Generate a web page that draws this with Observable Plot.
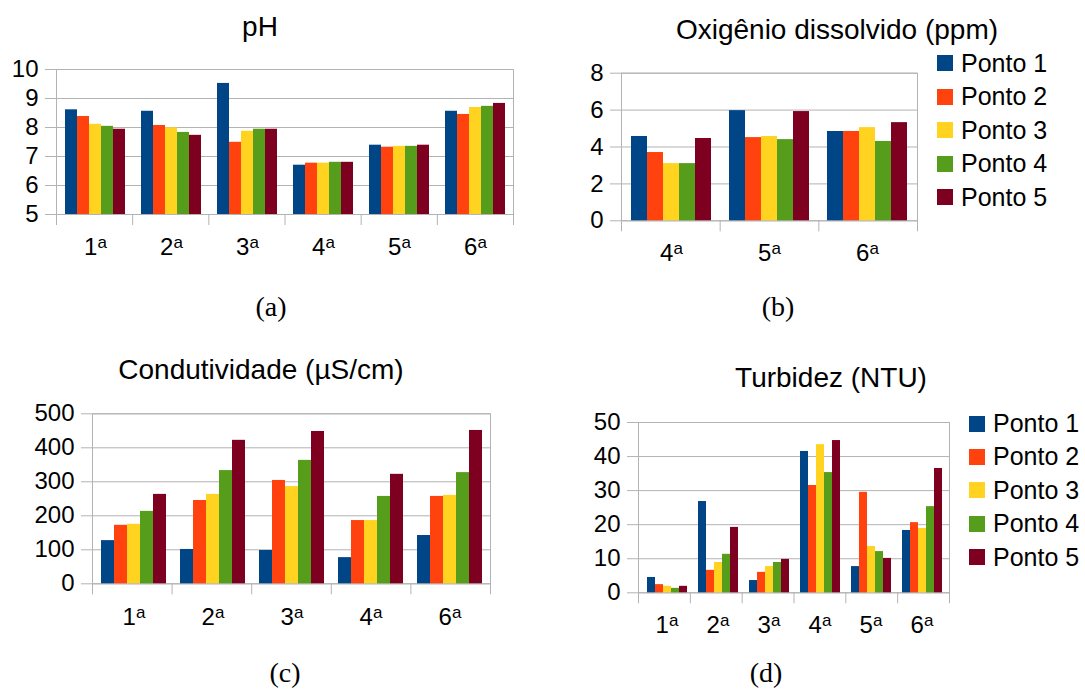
<!DOCTYPE html>
<html>
<head>
<meta charset="utf-8">
<script src="https://cdn.jsdelivr.net/npm/d3@7"></script>
<script src="https://cdn.jsdelivr.net/npm/@observablehq/plot@0.6"></script>
<style>
  html, body { margin: 0; padding: 0; background: #fff; }
  #fig { position: relative; width: 1085px; height: 689px; background: #fff; overflow: hidden; font-family: "Liberation Sans", Arial, sans-serif; }
  .abs { position: absolute; }
  .title { position: absolute; line-height: 1; white-space: nowrap; text-align: center; color: #000; }
  .cap { position: absolute; line-height: 0.8; white-space: nowrap; text-align: center; font-family: "Liberation Serif", "Times New Roman", serif; color: #000; }
  .leg { position: absolute; height: 25px; line-height: 25px; font-size: 25px; white-space: nowrap; color: #000; }
  .sw { position: absolute; width: 16px; height: 16px; top: 4.5px; left: 0; }
</style>
</head>
<body>
<div id="fig"></div>
<script>
// ---- data ----
const series = ["Ponto 1", "Ponto 2", "Ponto 3", "Ponto 4", "Ponto 5"];
const colors = ["#004586", "#ff420e", "#ffd320", "#579d1c", "#7e0021"];

// (a) pH
const phCategories = ["1ª", "2ª", "3ª", "4ª", "5ª", "6ª"];
const phValues = [
  [8.61, 8.56, 9.52, 6.70, 7.39, 8.56],
  [8.38, 8.07, 7.49, 6.77, 7.32, 8.45],
  [8.11, 7.99, 7.87, 6.77, 7.35, 8.69],
  [8.04, 7.83, 7.94, 6.80, 7.35, 8.73],
  [7.94, 7.73, 7.94, 6.80, 7.39, 8.83]
];
const phTicks = [5, 6, 7, 8, 9, 10];

// (b) Oxigênio dissolvido (ppm)
const odCategories = ["4ª", "5ª", "6ª"];
const odValues = [
  [4.57, 5.97, 4.84],
  [3.70, 4.51, 4.84],
  [3.10, 4.57, 5.05],
  [3.10, 4.40, 4.30],
  [4.46, 5.92, 5.32]
];
const odTicks = [0, 2, 4, 6, 8];

// (c) Condutividade (µS/cm)
const condCategories = ["1ª", "2ª", "3ª", "4ª", "6ª"];
const condValues = [
  [127, 101, 98, 77, 142],
  [172, 245, 304, 186, 257],
  [175, 263, 286, 186, 260],
  [213, 333, 363, 257, 327],
  [263, 422, 448, 322, 451]
];
const condTicks = [0, 100, 200, 300, 400, 500];

// (d) Turbidez (NTU)
const turbCategories = ["1ª", "2ª", "3ª", "4ª", "5ª", "6ª"];
const turbValues = [
  [4.5, 26.8, 3.6, 41.5, 7.7, 18.3],
  [2.4, 6.6, 6.0, 31.5, 29.5, 20.6],
  [1.9, 8.9, 7.7, 43.5, 13.6, 18.9],
  [1.3, 11.3, 8.9, 35.3, 12.1, 25.3],
  [1.9, 19.2, 9.8, 44.7, 10.1, 36.5]
];
const turbTicks = [0, 10, 20, 30, 40, 50];

const titles = ["pH", "Oxigênio dissolvido (ppm)", "Condutividade (µS/cm)", "Turbidez (NTU)"];
const captions = ["(a)", "(b)", "(c)", "(d)"];

// ---- drawing ----
const fig = document.getElementById("fig");
const GRID = "#b3b3b3";
const FONT = "'Liberation Sans', Arial, sans-serif";

function panel(o) {
  const data = [];
  o.cats.forEach((c, i) => series.forEach((s, j) => data.push({cat: c, series: s, value: o.values[j][i]})));
  const yMin = o.ticks[0], yMax = o.ticks[o.ticks.length - 1];
  const common = {
    width: o.w, height: o.h,
    marginLeft: o.ml, marginRight: o.mr, marginTop: o.mt, marginBottom: o.mb,
    style: {background: "transparent", fontFamily: FONT, fontSize: "24px", color: "#000", maxWidth: "none", overflow: "visible"}
  };
  const back = Plot.plot({
    ...common,
    x: {type: "linear", domain: [0, o.cats.length]},
    y: {domain: [yMin, yMax]},
    marks: [
      Plot.gridY({ticks: o.ticks, stroke: GRID, strokeOpacity: 1}),
      Plot.frame({stroke: GRID}),
      Plot.axisY({ticks: o.ticks, tickFormat: d => String(d), tickSize: 11, tickPadding: 7, stroke: GRID, fill: "#000", fontSize: 24, label: null}),
      Plot.axisX({ticks: d3.range(o.cats.length + 1), tickSize: 11, stroke: GRID, fill: "none", label: null})
    ]
  });
  const front = Plot.plot({
    ...common,
    fx: {domain: o.cats, padding: 0, label: null},
    x: {domain: series, paddingInner: 0, paddingOuter: 0.5, axis: null},
    y: {domain: [yMin, yMax], axis: null},
    color: {domain: series, range: colors},
    marks: [
      Plot.barY(data, {fx: "cat", x: "series", y1: yMin, y2: "value", fill: "series"}),
      Plot.axisFx({anchor: "bottom", tickSize: 0, tickPadding: o.labelPad, fontSize: 24, fill: "#000", label: null})
    ]
  });
  // ordinal indicator drawn as a raised small "a"
  front.querySelectorAll('g[aria-label="fx-axis tick label"] text').forEach(t => {
    const s = t.textContent;
    if (s.endsWith("ª")) {
      t.textContent = s.slice(0, -1);
      const ts = document.createElementNS("http://www.w3.org/2000/svg", "tspan");
      ts.setAttribute("dy", "-7");
      ts.setAttribute("font-size", "17");
      ts.textContent = "a";
      t.appendChild(ts);
    }
  });
  for (const svg of [back, front]) {
    svg.classList.add("abs");
    svg.style.left = o.left + "px";
    svg.style.top = o.top + "px";
    fig.appendChild(svg);
  }
}

function text(cls, str, cx, top, size) {
  const d = document.createElement("div");
  d.className = cls;
  d.textContent = str;
  d.style.left = (cx - 300) + "px";
  d.style.width = "600px";
  d.style.top = top + "px";
  d.style.fontSize = size + "px";
  fig.appendChild(d);
}

function legend(left, firstCenter, step) {
  series.forEach((s, i) => {
    const row = document.createElement("div");
    row.className = "leg";
    row.style.left = left + "px";
    row.style.top = (firstCenter + i * step - 12.5) + "px";
    const sw = document.createElement("div");
    sw.className = "sw";
    sw.style.background = colors[i];
    row.appendChild(sw);
    const tx = document.createElement("span");
    tx.textContent = s;
    tx.style.marginLeft = "24px";
    row.appendChild(tx);
    fig.appendChild(row);
  });
}

panel({cats: phCategories, values: phValues, ticks: phTicks,
  left: 0, top: 55, w: 530, h: 215, ml: 56, mr: 17, mt: 14, mb: 56, labelPad: 23});
panel({cats: odCategories, values: odValues, ticks: odTicks,
  left: 570, top: 60, w: 360, h: 215, ml: 51, mr: 13, mt: 12.7, mb: 54.7, labelPad: 23});
panel({cats: condCategories, values: condValues, ticks: condTicks,
  left: 20, top: 400, w: 490, h: 245, ml: 72, mr: 20, mt: 13.3, mb: 61.7, labelPad: 24});
panel({cats: turbCategories, values: turbValues, ticks: turbTicks,
  left: 585, top: 410, w: 380, h: 240, ml: 53, mr: 16, mt: 12, mb: 57.7, labelPad: 23});

text("title", titles[0], 260, 13, 28);
text("title", titles[1], 837, 15.8, 28);
text("title", titles[2], 261, 356, 28);
text("title", titles[3], 831, 364, 28);

// captions: line-height 0.8 -> baseline at top + 20.65 px
text("cap", captions[0], 271, 296, 28);
text("cap", captions[1], 778, 296.3, 28);
text("cap", captions[2], 285, 662, 28);
text("cap", captions[3], 766, 661.5, 28);

legend(937, 63, 33.5);
legend(969, 423.5, 33.4);
</script>
</body>
</html>
